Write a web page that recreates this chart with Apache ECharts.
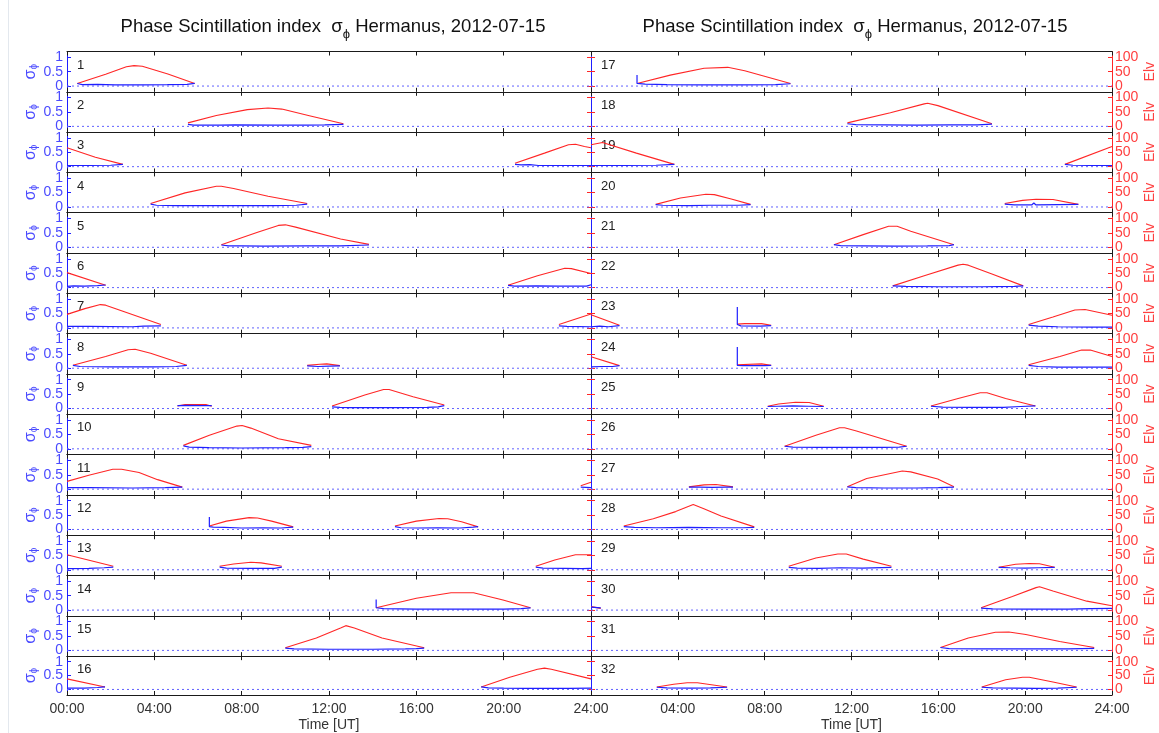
<!DOCTYPE html>
<html>
<head>
<meta charset="utf-8">
<script src="https://cdn.jsdelivr.net/npm/echarts@6/dist/echarts.min.js"></script>
<style>
html,body{margin:0;padding:0;background:#fff;}
#chart{width:1159px;height:733px;}
</style>
</head>
<body>
<div id="chart"></div>
<script>
// ---- data ----
const satellites = [1,2,3,4,5,6,7,8,9,10,11,12,13,14,15,16,17,18,19,20,21,22,23,24,25,26,27,28,29,30,31,32];
const timeTicks = [0,4,8,12,16,20,24];
const timeLabels = ['00:00','04:00','08:00','12:00','16:00','20:00','24:00'];
const sigmaTicks = [0,0.5,1];
const elvTicks = [0,50,100];
const titleText = 'Phase Scintillation index';
const stationText = 'Hermanus, 2012-07-15';

// elevation passes [hour, degrees] per satellite
const elevationPasses = [
 [[[0.47,9],[1.77,41],[2.72,67],[3.07,71],[3.45,69],[4.62,42],[5.85,9]]],
 [[[5.54,12],[6.84,38],[8.26,58],[9.21,64],[9.84,60],[11.1,37],[12.66,9]]],
 [[[0,66],[1.3,33],[2.56,8]],[[20.52,12],[21.87,47],[22.97,76],[23.29,78],[23.7,70],[24,66]]],
 [[[3.83,12],[5.41,49],[6.84,72],[7.07,72],[7.63,64],[9.21,37],[11.0,12]]],
 [[[7.07,9],[8.73,52],[9.68,76],[10.0,78],[10.47,70],[12.53,29],[13.83,10]]],
 [[[0,52],[1.77,8]],[[20.2,8],[21.55,41],[22.8,67],[23.1,66],[24,49]]],
 [[[0,47],[0.82,67],[1.53,81],[1.77,79],[2.56,58],[4.3,12]],[[22.53,12],[24,48]]],
 [[[0.27,10],[1.77,41],[2.8,64],[3.12,66],[3.83,52],[5.49,10]],[[11.0,10],[11.58,14],[11.9,15],[12.5,9]]],
 [[[5.06,9],[5.41,14],[6.36,14],[6.63,8]],[[12.14,9],[13.64,47],[14.5,66],[14.75,66],[15.85,41],[17.28,12]]],
 [[[5.33,12],[6.52,47],[7.78,79],[8.02,81],[8.42,72],[9.68,35],[11.19,12]]],
 [[[0,27],[1.0,48],[2.1,69],[2.5,69],[3.3,58],[4.15,33],[5.28,7]],[[23.53,12],[24,24]]],
 [[[6.52,12],[7.3,29],[8.34,41],[8.73,40],[9.37,29],[10.36,9]],[[15.02,12],[16.0,29],[17.04,38],[17.44,37],[18.07,27],[18.83,9]]],
 [[[0,52],[2.12,12]],[[6.99,12],[7.63,20],[8.42,26],[8.89,24],[9.84,12]],[[21.47,12],[22.34,34],[23.29,52],[24,52]]],
 [[[14.16,8],[16.0,41],[17.59,60],[18.62,60],[19.97,35],[21.23,8]]],
 [[[10.0,9],[11.42,43],[12.53,78],[12.77,86],[13.16,78],[14.43,43],[16.36,9]]],
 [[[0,38],[1.74,9]],[[18.97,9],[20.28,44],[21.55,73],[21.87,77],[22.18,73],[24,38]]],
 [[[2.12,9],[3.65,38],[5.21,62],[6.3,65],[7.08,53],[9.19,9]]],
 [[[11.81,12],[13.79,47],[15.35,78],[15.51,80],[15.98,72],[18.47,9]]],
 [[[0,76],[0.53,84],[2.09,47],[3.84,8]],[[21.83,8],[24,70]]],
 [[[2.98,9],[4.12,31],[5.29,44],[5.68,43],[6.46,28],[7.35,9]],[[19.06,12],[19.88,23],[20.5,27],[21.28,26],[22.45,9]]],
 [[[11.19,9],[12.54,44],[13.71,73],[14.1,73],[14.73,56],[16.72,9]]],
 [[[13.9,6],[15.35,41],[16.91,78],[17.14,81],[17.38,78],[18.47,47],[19.91,6]]],
 [[[0,46],[1.31,9]],[[6.74,13],[7.08,15],[7.86,15],[8.3,9]],[[20.16,12],[21.28,38],[22.29,62],[22.76,64],[24,44]]],
 [[[0,40],[1.31,9]],[[6.74,12],[7.86,15],[8.3,10]],[[20.16,12],[21.6,41],[22.6,63],[23.0,63],[24,41]]],
 [[[8.14,8],[8.64,16],[9.42,22],[10.05,21],[10.72,8]],[[15.66,9],[16.91,35],[17.93,55],[18.24,55],[19.1,35],[20.47,9]]],
 [[[8.92,9],[10.36,47],[11.45,73],[11.68,73],[12.23,62],[14.54,9]]],
 [[[4.51,8],[5.21,15],[5.76,16],[6.54,8]],[[11.81,8],[12.7,37],[14.34,63],[14.73,60],[15.97,35],[16.72,8]]],
 [[[1.51,12],[2.87,37],[3.9,62],[4.71,87],[5.2,72],[5.99,47],[7.52,9]]],
 [[[9.11,12],[10.36,41],[11.37,55],[11.76,55],[12.54,37],[13.84,12]],[[18.78,9],[19.56,19],[20.19,22],[20.66,21],[21.36,9]]],
 [[[0,12],[0.45,6]],[[17.97,8],[19.41,47],[20.5,78],[20.66,81],[21.28,66],[22.84,31],[24,15]]],
 [[[16.1,10],[17.38,43],[18.63,63],[19.25,64],[20.03,55],[21.59,31],[23.18,10]]],
 [[[3.03,9],[3.81,19],[4.43,24],[4.9,24],[6.27,9]],[[18.0,9],[19.1,35],[19.88,44],[20.19,44],[21.28,27],[22.37,9]]]
];

// phase scintillation index passes [hour, sigma_phi] per satellite
const sigmaPasses = [
 [[[0.47,0.09],[0.7,0.05],[1.4,0.06],[2.2,0.04],[3.5,0.04],[4.6,0.05],[5.5,0.06],[5.85,0.09]]],
 [[[5.54,0.07],[5.8,0.04],[7.0,0.04],[7.7,0.05],[9.5,0.04],[11.0,0.04],[11.8,0.05],[12.66,0.07]]],
 [[[0,0.04],[1.0,0.04],[2.0,0.05],[2.56,0.08]],[[20.52,0.08],[20.8,0.06],[21.2,0.07],[21.6,0.04],[23,0.04],[24,0.04]]],
 [[[3.83,0.1],[4.1,0.06],[5.0,0.05],[7.0,0.05],[9.5,0.05],[10.5,0.06],[11.0,0.1]]],
 [[[7.07,0.08],[7.4,0.05],[8.0,0.05],[9.0,0.04],[11.0,0.05],[12.5,0.05],[13.83,0.08]]],
 [[[0,0.04],[0.3,0.06],[0.8,0.05],[1.4,0.07],[1.77,0.09]],[[20.2,0.08],[20.5,0.05],[21.5,0.06],[22.5,0.05],[23.8,0.05],[24,0.1]]],
 [[[0,0.05],[1.0,0.05],[3.0,0.04],[3.5,0.06],[4.3,0.07]],[[22.53,0.07],[22.9,0.05],[24,0.04]]],
 [[[0.27,0.1],[0.6,0.06],[2,0.05],[4,0.05],[5.0,0.06],[5.49,0.1]],[[11.0,0.08],[11.5,0.06],[12.0,0.07],[12.5,0.08]]],
 [[[5.06,0.1],[5.5,0.11],[6.2,0.1],[6.63,0.1]],[[12.14,0.06],[12.5,0.04],[13,0.03],[15,0.03],[16.5,0.04],[17.0,0.06],[17.28,0.1]]],
 [[[5.33,0.1],[5.6,0.06],[6.5,0.04],[8,0.03],[10,0.04],[10.8,0.05],[11.19,0.08]]],
 [[[0,0.05],[1.0,0.05],[3.0,0.04],[4.5,0.05],[5.28,0.07]],[[23.53,0.07],[24,0.05]]],
 [[[6.52,0.43],[6.52,0.1],[6.7,0.08],[7.2,0.07],[8.0,0.05],[9.0,0.06],[9.8,0.05],[10.36,0.08]],[[15.02,0.1],[15.3,0.06],[16,0.05],[17,0.06],[18,0.05],[18.6,0.08],[18.83,0.1]]],
 [[[0,0.04],[1.0,0.05],[1.7,0.07],[2.12,0.09]],[[6.99,0.09],[7.3,0.06],[8.4,0.05],[9.5,0.05],[9.84,0.09]],[[21.47,0.09],[21.8,0.06],[22.8,0.05],[23.6,0.04],[24,0.05]]],
 [[[14.16,0.37],[14.16,0.08],[14.5,0.05],[16,0.03],[18,0.03],[20,0.03],[20.8,0.05],[21.23,0.08]]],
 [[[10.0,0.08],[10.4,0.05],[12,0.04],[14,0.04],[15.5,0.05],[16.0,0.06],[16.36,0.08]]],
 [[[0,0.05],[0.8,0.05],[1.4,0.07],[1.74,0.09]],[[18.97,0.09],[19.3,0.06],[20,0.05],[21,0.04],[23,0.04],[24,0.05]]],
 [[[2.12,0.38],[2.12,0.09],[2.5,0.07],[3.5,0.05],[5,0.04],[7,0.04],[8.5,0.05],[9.19,0.08]]],
 [[[11.81,0.09],[12.2,0.06],[13.5,0.05],[15,0.04],[16.5,0.05],[17.8,0.05],[18.47,0.08]]],
 [[[0,0.04],[1.5,0.04],[3.0,0.05],[3.84,0.08]],[[21.83,0.08],[22.2,0.05],[23,0.04],[24,0.04]]],
 [[[2.98,0.08],[3.3,0.06],[4.5,0.05],[5.5,0.06],[6.8,0.06],[7.35,0.08]],[[19.06,0.1],[19.5,0.07],[20.3,0.07],[20.4,0.14],[20.5,0.07],[21.5,0.08],[22.45,0.09]]],
 [[[11.19,0.09],[11.5,0.06],[12.5,0.05],[14,0.04],[15.5,0.05],[16.5,0.06],[16.72,0.09]]],
 [[[13.9,0.06],[14.5,0.04],[16,0.03],[18,0.03],[19.5,0.04],[19.91,0.06]]],
 [[[0,0.04],[0.4,0.06],[0.8,0.04],[1.31,0.08]],[[6.74,0.73],[6.74,0.12],[6.9,0.07],[7.8,0.06],[8.3,0.08]],[[20.16,0.1],[20.6,0.06],[21.5,0.04],[23,0.03],[24,0.03]]],
 [[[0,0.05],[0.5,0.06],[1.0,0.06],[1.31,0.09]],[[6.74,0.74],[6.74,0.1],[7.0,0.09],[8.0,0.09],[8.3,0.1]],[[20.16,0.1],[20.6,0.06],[21.5,0.04],[23,0.04],[24,0.04]]],
 [[[8.14,0.07],[8.6,0.08],[9.3,0.09],[10.0,0.08],[10.72,0.07]],[[15.66,0.08],[16.2,0.05],[17.5,0.04],[19,0.04],[19.8,0.07],[20.47,0.09]]],
 [[[8.92,0.09],[9.3,0.06],[10.5,0.05],[12,0.05],[13.5,0.05],[14.2,0.06],[14.54,0.09]]],
 [[[4.51,0.07],[5.0,0.07],[5.6,0.06],[6.2,0.07],[6.54,0.07]],[[11.81,0.08],[12.2,0.05],[13.5,0.04],[15,0.04],[16,0.05],[16.72,0.07]]],
 [[[1.51,0.1],[2.0,0.07],[3,0.06],[4.5,0.07],[6,0.06],[7.0,0.06],[7.52,0.07]]],
 [[[9.11,0.08],[9.5,0.06],[10.5,0.05],[11.5,0.07],[12.5,0.06],[13.84,0.08]],[[18.78,0.08],[19.3,0.07],[20,0.06],[20.6,0.07],[21.36,0.08]]],
 [[[0,0.1],[0.45,0.08]],[[17.97,0.07],[18.5,0.04],[20,0.03],[22,0.03],[23,0.05],[24,0.06]]],
 [[[16.1,0.1],[16.5,0.06],[18,0.05],[20,0.05],[22,0.05],[23.18,0.07]]],
 [[[3.03,0.08],[3.5,0.06],[4.6,0.05],[5.5,0.06],[6.27,0.08]],[[18.0,0.08],[18.5,0.06],[19.5,0.05],[20.5,0.04],[21.5,0.05],[22.37,0.08]]]
];

// ---- layout / style ----
const FONT = 'Liberation Sans, Arial, sans-serif';
const BLUE = '#1f1fff', BLUE_TXT = '#4a4aff', RED = '#ff2626', RED_TXT = '#ff4040';
const colLeft = [67, 591], colWidth = [524, 521];
const top0 = 51.5, pitch = 40.31;

const grids = [], xAxes = [], yAxes = [], series = [], graphics = [];

satellites.forEach((sat, i) => {
  const col = i < 16 ? 0 : 1, row = i % 16;
  const gl = colLeft[col], gt = top0 + row * pitch;
  grids.push({left: gl, top: gt, width: colWidth[col], height: pitch, containLabel: false});
  const isBottom = row === 15;
  xAxes.push({
    type: 'value', gridIndex: i, position: 'bottom', min: 0, max: 24, interval: 4,
    axisLine: {show: true, onZero: false, lineStyle: {color: '#1a1a1a', width: 1}},
    axisTick: {show: true, inside: true, length: 4, lineStyle: {color: '#1a1a1a'}},
    splitLine: {show: false},
    axisLabel: {
      show: isBottom, color: '#333', fontSize: 14, fontFamily: FONT, margin: 7,
      formatter: v => (col === 1 && v === 0) ? '' : timeLabels[timeTicks.indexOf(v)]
    },
    name: isBottom ? 'Time [UT]' : '', nameLocation: 'middle', nameGap: 23,
    nameTextStyle: {color: '#333', fontSize: 14, fontFamily: FONT}
  });
  xAxes.push({
    type: 'value', gridIndex: i, position: 'top', min: 0, max: 24, interval: 4,
    axisLine: {show: true, onZero: false, lineStyle: {color: '#1a1a1a', width: 1}},
    axisTick: {show: true, inside: true, length: 4, lineStyle: {color: '#1a1a1a'}},
    splitLine: {show: false}, axisLabel: {show: false}
  });
  yAxes.push({
    type: 'value', gridIndex: i, position: 'left', min: -0.2, max: 1.2,
    axisLine: {show: true, onZero: false, lineStyle: {color: BLUE, width: 1}},
    axisTick: {show: true, inside: true, length: 4, customValues: sigmaTicks,
      lineStyle: {color: col === 0 ? BLUE : RED}},
    splitLine: {show: false},
    axisLabel: {show: col === 0, customValues: sigmaTicks, color: BLUE_TXT, fontSize: 14,
      fontFamily: FONT, margin: 4, formatter: v => String(v)},
    name: col === 0 ? '{s|σ}{p|ϕ}' : '', nameLocation: 'middle', nameGap: 13, nameRotate: 90,
    nameTextStyle: {color: BLUE_TXT, fontFamily: FONT,
      rich: {s: {fontSize: 16, color: BLUE_TXT, fontFamily: FONT},
             p: {fontSize: 10, color: BLUE_TXT, fontFamily: FONT, padding: [9, 0, 0, 0]}}}
  });
  yAxes.push({
    type: 'value', gridIndex: i, position: 'right', min: -20, max: 120,
    axisLine: {show: true, onZero: false, lineStyle: {color: col === 0 ? BLUE : RED, width: 1}},
    axisTick: {show: true, inside: true, length: 4, customValues: elvTicks, lineStyle: {color: RED}},
    splitLine: {show: false},
    axisLabel: {show: col === 1, customValues: elvTicks, color: RED_TXT, fontSize: 14,
      fontFamily: FONT, margin: 3, formatter: v => String(v)},
    name: col === 1 ? 'Elv' : '', nameLocation: 'middle', nameGap: 31, nameRotate: 90,
    nameTextStyle: {color: RED_TXT, fontSize: 14, fontFamily: FONT}
  });
  const xb = 2 * i, ys = 2 * i, ye = 2 * i + 1;
  series.push({
    type: 'line', xAxisIndex: xb, yAxisIndex: ys, data: [[0, 0], [24, 0]],
    symbol: 'none', silent: true, z: 1,
    lineStyle: {color: '#6060ff', width: 1, type: [2, 3]}
  });
  elevationPasses[i].forEach(p => series.push({
    type: 'line', xAxisIndex: xb, yAxisIndex: ye, data: p, symbol: 'none', silent: true, z: 2,
    lineStyle: {color: RED, width: 1.1}
  }));
  sigmaPasses[i].forEach(p => series.push({
    type: 'line', xAxisIndex: xb, yAxisIndex: ys, data: p, symbol: 'none', silent: true, z: 3,
    lineStyle: {color: BLUE, width: 1.2}
  }));
  graphics.push({
    type: 'text', left: gl + 10, top: gt + 7, silent: true,
    style: {text: String(sat), fill: '#222', fontSize: 13, fontFamily: FONT}
  });
});

graphics.push({type: 'rect', shape: {x: 8, y: 0, width: 1, height: 733}, style: {fill: '#e3e8ee'}, silent: true});

const titleRich = {
  m: {fontSize: 18.5, fontWeight: 'normal', color: '#111', fontFamily: FONT},
  p: {fontSize: 13, fontWeight: 'normal', color: '#111', fontFamily: FONT, padding: [15, 0, 0, 0]}
};
const titleStr = '{m|' + titleText + '  σ}{p|ϕ}{m| ' + stationText + '}';

const chart = echarts.init(document.getElementById('chart'), null, {renderer: 'canvas'});
chart.setOption({
  animation: false,
  backgroundColor: '#ffffff',
  title: [
    {text: titleStr, left: 328, top: 8, textAlign: 'center', textStyle: {fontWeight: 'normal', rich: titleRich}},
    {text: titleStr, left: 850, top: 8, textAlign: 'center', textStyle: {fontWeight: 'normal', rich: titleRich}}
  ],
  grid: grids, xAxis: xAxes, yAxis: yAxes, series: series, graphic: graphics
});
</script>
</body>
</html>
